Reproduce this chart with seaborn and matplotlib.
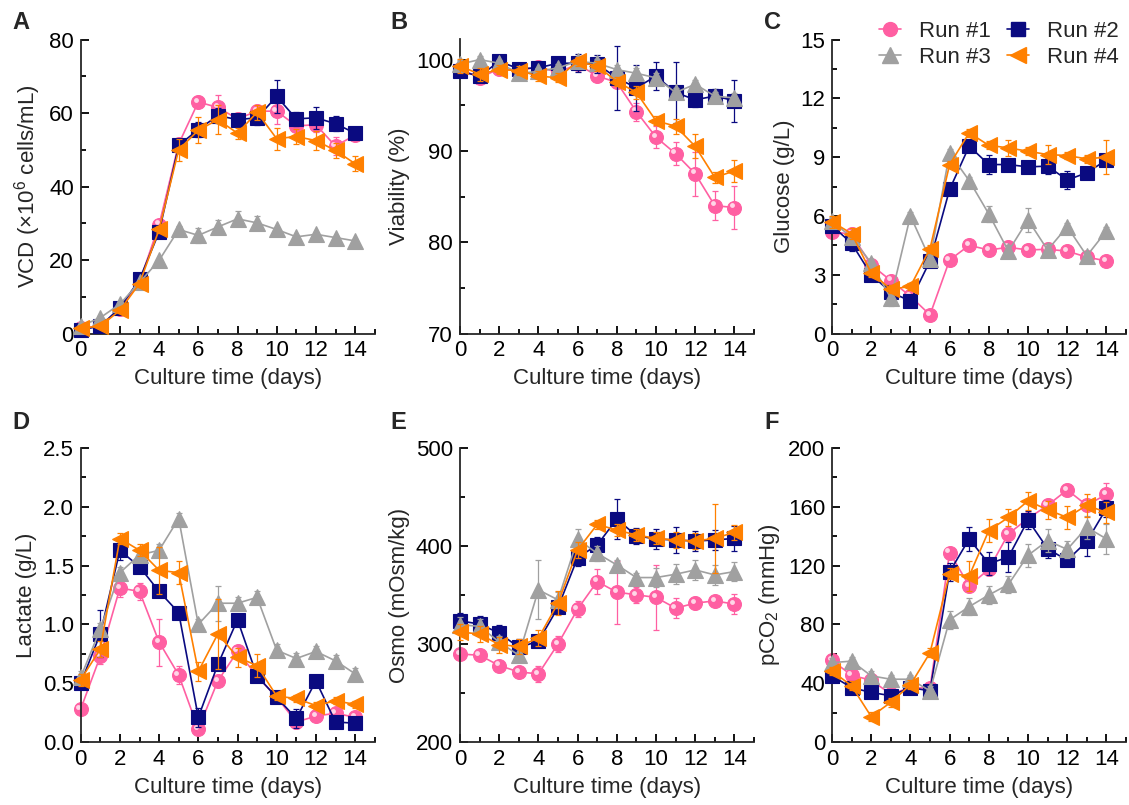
import matplotlib
matplotlib.use('Agg')
import matplotlib.pyplot as plt
import seaborn as sns
from matplotlib.ticker import MultipleLocator, FormatStrFormatter
from matplotlib.transforms import offset_copy
from matplotlib.lines import Line2D

# culture days and runs
days = list(range(15))
run_labels = ['Run #1', 'Run #2', 'Run #3', 'Run #4']
run_colors = ['#FF5FA2', '#0A0A80', '#A0A0A0', '#FF8000']
run_markers = ['o', 's', '^', '<']

# A: viable cell density (x10^6 cells/mL)
vcd_r1 = [1.5, 2.0, 6.8, 14.0, 29.6, 51.6, 63.0, 61.5, 58.4, 60.5, 60.5, 56.5, 56.8, 51.0, 54.0]
vcd_r2 = [1.0, 2.0, 7.0, 14.7, 27.6, 51.2, 55.5, 59.3, 58.2, 58.7, 64.5, 58.4, 58.7, 57.1, 54.5]
vcd_r3 = [2.0, 4.3, 8.0, 13.9, 19.9, 28.3, 26.7, 29.0, 31.2, 30.1, 28.3, 26.3, 27.0, 26.1, 25.2]
vcd_r4 = [1.5, 2.0, 6.3, 13.6, 28.3, 50.0, 55.3, 58.2, 54.5, 60.2, 53.0, 53.6, 52.5, 49.8, 46.2]
vcd_r1_sd = [0.5, 0.5, 0.8, 1.0, 1.0, 1.5, 1.5, 3.5, 1.5, 1.5, 3.5, 1.5, 2.0, 2.5, 1.0]
vcd_r2_sd = [0.5, 0.5, 0.8, 1.0, 1.0, 1.5, 2.0, 2.0, 1.5, 2.0, 4.5, 2.0, 3.0, 2.0, 1.5]
vcd_r3_sd = [0.5, 0.5, 0.5, 0.5, 0.5, 1.0, 2.0, 2.0, 2.0, 2.0, 0.5, 0.5, 0.5, 0.5, 0.5]
vcd_r4_sd = [0.5, 0.5, 0.8, 1.0, 1.0, 3.0, 3.5, 4.0, 1.5, 2.0, 3.0, 2.0, 2.5, 2.0, 2.0]

# B: viability (%)
via_r1 = [99.0, 98.0, 99.0, 98.8, 99.2, 98.6, 99.5, 98.2, 97.5, 94.3, 91.5, 89.7, 87.5, 84.0, 83.8]
via_r2 = [98.7, 98.2, 99.8, 99.0, 99.1, 99.6, 99.6, 99.5, 98.0, 96.9, 98.2, 96.4, 95.6, 96.0, 95.5]
via_r3 = [99.5, 100.0, 99.6, 98.5, 98.7, 99.1, 99.8, 99.6, 98.9, 98.5, 98.0, 96.4, 97.3, 96.0, 95.8]
via_r4 = [99.3, 98.4, 98.9, 98.8, 98.2, 98.0, 99.8, 99.3, 97.6, 96.4, 93.3, 92.7, 90.5, 87.1, 87.8]
via_r1_sd = [0.5, 0.5, 0.5, 0.5, 0.5, 0.5, 0.5, 0.5, 0.5, 1.0, 1.2, 1.3, 2.4, 1.6, 2.4]
via_r2_sd = [0.5, 0.5, 0.5, 0.5, 0.5, 0.5, 1.0, 1.0, 3.5, 2.5, 1.5, 3.3, 0.8, 0.8, 2.3]
via_r3_sd = [0.4, 0.4, 0.4, 0.4, 0.4, 0.4, 0.4, 0.5, 0.5, 0.6, 0.5, 0.5, 0.5, 0.5, 0.5]
via_r4_sd = [0.8, 0.7, 0.5, 0.5, 0.5, 0.5, 0.5, 0.5, 0.5, 0.7, 0.5, 0.8, 1.3, 0.6, 1.2]

# C: glucose (g/L)
glc_r1 = [5.2, 5.06, 3.5, 2.7, 1.9, 0.95, 3.75, 4.5, 4.26, 4.4, 4.26, 4.3, 4.2, 3.9, 3.7]
glc_r2 = [5.5, 4.6, 3.0, 2.1, 1.66, 3.7, 7.35, 9.56, 8.62, 8.62, 8.5, 8.54, 7.83, 8.2, 8.85]
glc_r3 = [5.74, 4.9, 3.6, 1.8, 6.0, 3.8, 9.2, 7.8, 6.1, 4.2, 5.8, 4.26, 5.45, 3.96, 5.23]
glc_r4 = [5.7, 5.1, 3.1, 2.26, 2.4, 4.33, 8.62, 10.24, 9.6, 9.47, 9.3, 9.13, 9.08, 8.91, 9.0]
glc_r1_sd = [0.3, 0.3, 0.2, 0.2, 0.2, 0.2, 0.2, 0.2, 0.3, 0.3, 0.2, 0.3, 0.2, 0.2, 0.2]
glc_r2_sd = [0.3, 0.4, 0.3, 0.3, 0.2, 0.3, 0.3, 0.3, 0.5, 0.3, 0.3, 0.4, 0.45, 0.3, 0.3]
glc_r3_sd = [0.2, 0.2, 0.2, 0.4, 0.2, 0.2, 0.2, 0.2, 0.4, 0.3, 0.6, 0.3, 0.2, 0.2, 0.2]
glc_r4_sd = [0.3, 0.3, 0.2, 0.2, 0.2, 0.2, 0.2, 0.2, 0.2, 0.4, 0.2, 0.5, 0.2, 0.2, 0.85]

# D: lactate (g/L)
lac_r1 = [0.28, 0.73, 1.31, 1.28, 0.85, 0.57, 0.11, 0.52, 0.77, 0.56, 0.38, 0.17, 0.22, 0.245, 0.21]
lac_r2 = [0.5, 0.92, 1.63, 1.49, 1.28, 1.1, 0.21, 0.66, 1.04, 0.56, 0.38, 0.2, 0.52, 0.17, 0.16]
lac_r3 = [0.55, 0.96, 1.44, 1.59, 1.63, 1.9, 1.0, 1.18, 1.18, 1.23, 0.78, 0.71, 0.77, 0.69, 0.58]
lac_r4 = [0.53, 0.79, 1.73, 1.63, 1.46, 1.44, 0.6, 0.92, 0.72, 0.65, 0.39, 0.37, 0.31, 0.35, 0.32]
lac_r1_sd = [0.03, 0.07, 0.08, 0.07, 0.2, 0.08, 0.03, 0.03, 0.05, 0.03, 0.03, 0.03, 0.03, 0.03, 0.03]
lac_r2_sd = [0.05, 0.2, 0.08, 0.05, 0.05, 0.05, 0.08, 0.03, 0.05, 0.03, 0.03, 0.08, 0.03, 0.03, 0.03]
lac_r3_sd = [0.05, 0.05, 0.05, 0.05, 0.05, 0.05, 0.05, 0.15, 0.05, 0.05, 0.05, 0.05, 0.05, 0.05, 0.05]
lac_r4_sd = [0.05, 0.07, 0.05, 0.05, 0.2, 0.1, 0.08, 0.3, 0.08, 0.1, 0.03, 0.03, 0.03, 0.03, 0.03]

# E: osmolality (mOsm/kg)
osm_r1 = [289.8, 288.5, 278.0, 271.5, 269.5, 300.0, 335.6, 363.7, 352.9, 350.2, 347.5, 336.6, 341.7, 344.0, 340.7]
osm_r2 = [323.7, 320.3, 311.2, 296.6, 302.7, 337.3, 388.1, 401.0, 427.5, 410.5, 407.1, 406.1, 405.1, 406.1, 407.8]
osm_r3 = [319.7, 318.0, 302.0, 288.5, 355.3, 345.0, 407.0, 392.5, 380.7, 367.8, 367.8, 371.2, 375.6, 370.5, 373.9]
osm_r4 = [312.2, 310.2, 299.3, 297.6, 306.0, 341.7, 396.0, 422.0, 416.3, 411.2, 407.8, 406.1, 405.1, 407.8, 413.9]
osm_r1_sd = [5, 5, 5, 5, 8, 8, 8, 13, 32, 8, 33, 10, 6, 5, 10]
osm_r2_sd = [8, 8, 8, 8, 6, 5, 8, 8, 20, 8, 10, 13, 10, 10, 13]
osm_r3_sd = [8, 8, 6, 6, 30, 8, 10, 8, 5, 5, 10, 10, 10, 10, 10]
osm_r4_sd = [8, 8, 8, 8, 8, 12, 8, 5, 6, 6, 6, 8, 8, 35, 8]

# F: pCO2 (mmHg)
pco_r1 = [55.5, 45.4, 42.0, 32.6, 37.0, 36.6, 128.8, 106.3, 117.5, 141.6, 152.0, 161.0, 171.5, 161.0, 168.5]
pco_r2 = [45.0, 37.0, 33.7, 31.5, 37.0, 34.8, 115.7, 138.2, 121.3, 125.8, 151.0, 131.5, 123.6, 136.4, 158.9]
pco_r3 = [54.0, 55.0, 45.0, 42.7, 42.7, 34.8, 83.1, 92.1, 100.0, 107.2, 127.0, 137.0, 131.0, 146.0, 138.2]
pco_r4 = [48.3, 38.2, 17.3, 27.0, 38.9, 60.7, 114.6, 113.0, 143.8, 152.8, 164.0, 158.0, 152.8, 161.0, 156.2]
pco_r1_sd = [3, 3, 3, 3, 3, 3, 3, 3, 4, 4, 4, 4, 4, 4, 8]
pco_r2_sd = [3, 3, 3, 3, 3, 3, 6, 8, 8, 10, 6, 6, 4, 10, 6]
pco_r3_sd = [3, 3, 3, 3, 3, 3, 6, 6, 6, 6, 8, 8, 6, 8, 10]
pco_r4_sd = [3, 3, 3, 3, 3, 3, 4, 10, 8, 6, 6, 6, 8, 8, 7]

sns.set_theme(style='ticks')
plt.rcParams['font.family'] = ['Liberation Sans', 'DejaVu Sans']
plt.rcParams['mathtext.fontset'] = 'custom'
plt.rcParams['mathtext.rm'] = 'Liberation Sans'
plt.rcParams['mathtext.it'] = 'Liberation Sans:italic'
plt.rcParams['mathtext.bf'] = 'Liberation Sans:bold'
plt.rcParams['axes.linewidth'] = 1.3

fig = plt.figure(figsize=(11.29, 8.05), dpi=100)

W, H = 1129, 805
ax_w, ax_h = 294 / W, 294 / H
lefts = [80.7 / W, 460 / W, 832 / W]
bottoms = [1 - 333.5 / H, 1 - 742 / H]

panels = [
    ('A', 'VCD (×10$^{6}$ cells/mL)', [vcd_r1, vcd_r2, vcd_r3, vcd_r4],
     [vcd_r1_sd, vcd_r2_sd, vcd_r3_sd, vcd_r4_sd], (0, 80), 20, '%d'),
    ('B', 'Viability (%)', [via_r1, via_r2, via_r3, via_r4],
     [via_r1_sd, via_r2_sd, via_r3_sd, via_r4_sd], (70, 102.2), 10, '%d'),
    ('C', 'Glucose (g/L)', [glc_r1, glc_r2, glc_r3, glc_r4],
     [glc_r1_sd, glc_r2_sd, glc_r3_sd, glc_r4_sd], (0, 15), 3, '%d'),
    ('D', 'Lactate (g/L)', [lac_r1, lac_r2, lac_r3, lac_r4],
     [lac_r1_sd, lac_r2_sd, lac_r3_sd, lac_r4_sd], (0, 2.5), 0.5, '%.1f'),
    ('E', 'Osmo (mOsm/kg)', [osm_r1, osm_r2, osm_r3, osm_r4],
     [osm_r1_sd, osm_r2_sd, osm_r3_sd, osm_r4_sd], (200, 500), 100, '%d'),
    ('F', 'pCO$_{2}$ (mmHg)', [pco_r1, pco_r2, pco_r3, pco_r4],
     [pco_r1_sd, pco_r2_sd, pco_r3_sd, pco_r4_sd], (0, 200), 40, '%d'),
]

fs = 16
for i, (letter, ylabel, series, sds, ylim, major, fmt) in enumerate(panels):
    row, col = divmod(i, 3)
    ax = fig.add_axes([lefts[col], bottoms[row], ax_w, ax_h])

    for k in range(4):
        c = run_colors[k]
        ms = 11 if run_markers[k] in ('^', '<') else 10
        ax.errorbar(days, series[k], yerr=sds[k], fmt='none', ecolor=c,
                    elinewidth=0.9, capsize=2.5, capthick=0.9, clip_on=False,
                    zorder=2 + k)
        sns.lineplot(x=days, y=series[k], ax=ax, color=c, marker=run_markers[k],
                     markersize=ms, markeredgecolor=c, markeredgewidth=0.8,
                     linewidth=1.2, clip_on=False, zorder=2 + k)
        if k == 0:
            # glossy highlight on the pink spheres
            hl = offset_copy(ax.transData, fig=fig, x=-1.6, y=1.6, units='points')
            ax.plot(days, series[k], 'o', ms=3.5, color='white', alpha=0.75,
                    mec='none', transform=hl, clip_on=False, zorder=2.5)

    ax.set_xlim(0, 15)
    ax.set_ylim(*ylim)
    ax.xaxis.set_major_locator(MultipleLocator(2))
    ax.xaxis.set_minor_locator(MultipleLocator(1))
    ax.set_xticks(range(0, 15, 2))
    ax.yaxis.set_major_locator(MultipleLocator(major))
    ax.yaxis.set_minor_locator(MultipleLocator(major / 2))
    ax.yaxis.set_major_formatter(FormatStrFormatter(fmt))
    ax.tick_params(which='both', direction='in', width=1.3, colors='black',
                   labelsize=fs)
    ax.tick_params(which='major', length=6, pad=5)
    ax.tick_params(which='minor', length=3.5)
    sns.despine(ax=ax)
    ax.set_xlabel('Culture time (days)', fontsize=fs, labelpad=5)
    ax.set_ylabel(ylabel, fontsize=fs, labelpad=4)
    ax.grid(False)

    lx = [12 / W, 390 / W, 764 / W][col]
    ly = [1 - 11 / H, 1 - 411 / H][row]
    fig.text(lx, ly, letter, fontsize=fs + 1, fontweight='bold', va='top', ha='left')

handles = []
for k in range(4):
    handles.append(Line2D([0], [0], color=run_colors[k], marker=run_markers[k],
                          markersize=11 if k >= 2 else 10, mec=run_colors[k],
                          linewidth=1.2))
order = [0, 2, 1, 3]
fig.legend([handles[k] for k in order], [run_labels[k] for k in order],
           loc='upper left', bbox_to_anchor=(868 / W, 1 - 10 / H), ncol=2,
           frameon=False, fontsize=fs, handlelength=1.0, handletextpad=0.8,
           columnspacing=0.7, labelspacing=0.2, borderpad=0)

fig.savefig('out.png', dpi=100)
